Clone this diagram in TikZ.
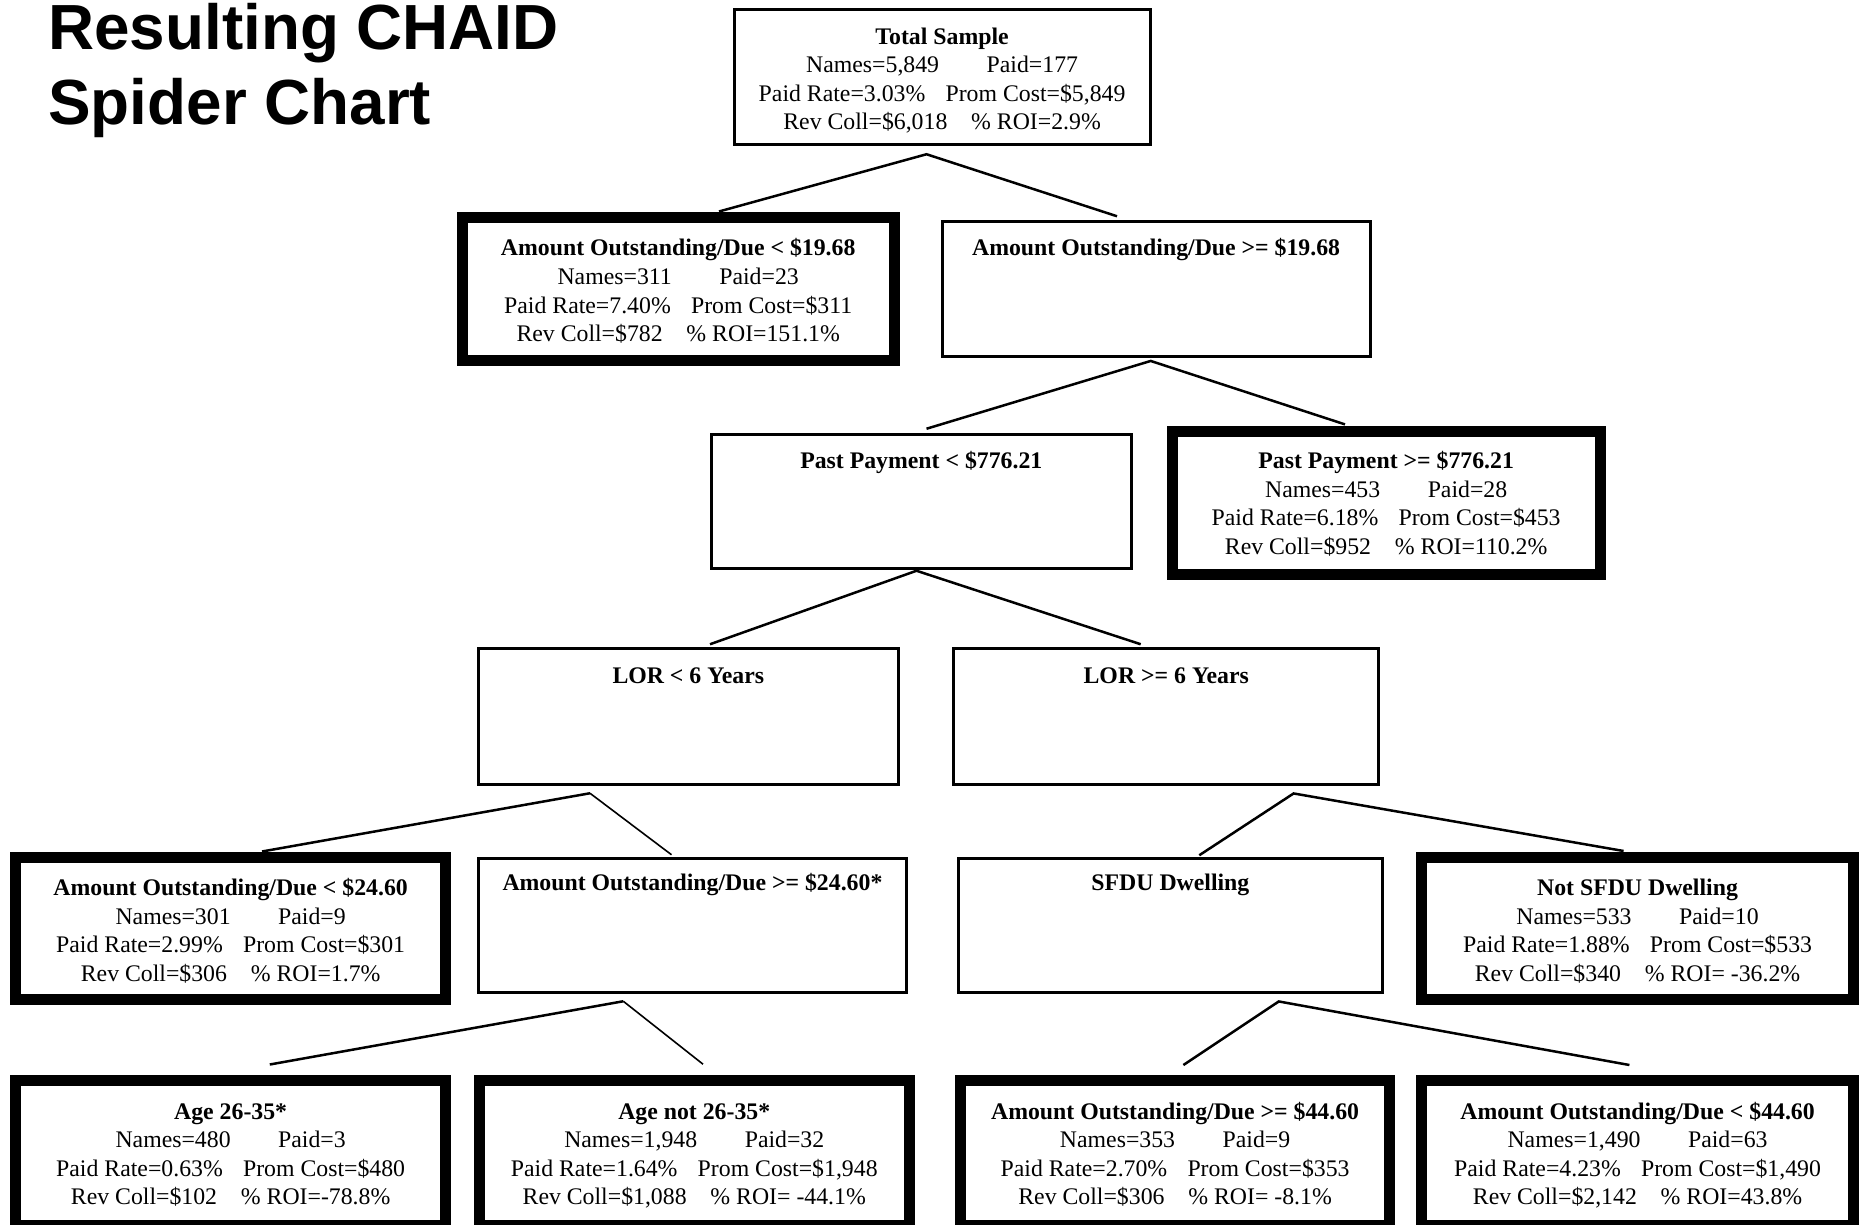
\documentclass[tikz,border=0pt]{standalone}
\usepackage{fontspec}
\setmainfont{Liberation Serif}
\newfontfamily\headfont{Liberation Sans}
% four lines of statistics under a split heading
\newcommand\nodestats[6]{Names=#1\hspace{2em}Paid=#2\\Paid Rate=#3\hspace{0.85em}Prom Cost=#4\\Rev Coll=#5\hspace{1em}\% ROI=#6}
\begin{document}
\begin{tikzpicture}[x=0.5pt, y=-0.5pt,
  plainbox/.style 2 args={draw, inner sep=0pt, outer sep=0pt, line width=1.5pt,
    minimum width={(#1-1)*0.5pt}, minimum height={(#2-1)*0.5pt}},
  heavybox/.style 2 args={draw, inner sep=0pt, outer sep=0pt, line width=5.5pt,
    minimum width={(#1-7)*0.5pt}, minimum height={(#2-7)*0.5pt}},
  info/.style={anchor=north, inner sep=0pt, align=center,
    font=\fontsize{11.89pt}{14.27pt}\selectfont},
  heading/.style={anchor=base west, inner sep=0pt,
    font=\headfont\bfseries\fontsize{31.9pt}{37.5pt}\selectfont},
  link/.style={line width=1.25pt},
  lightlink/.style={line width=0.8pt}
]
\useasboundingbox (0,0) rectangle (1864,1225);

% title
\node[heading] (title1) at (48,50) {Resulting CHAID};
\node[heading] (title2) at (48,125) {Spider Chart};

% boxes
\node[plainbox={417.2}{135.5}] (tot) at (942.1,77.25) {};
\node[heavybox={438.6}{149.8}] (a1) at (678.2,288.9) {};
\node[plainbox={429.2}{135.5}] (a2) at (1156.1,288.85) {};
\node[plainbox={420.8}{135.5}] (p1) at (921.3,501.65) {};
\node[heavybox={435.1}{149.7}] (p2) at (1386.15,502.85) {};
\node[plainbox={420.8}{136.7}] (l1) at (688.3,716.25) {};
\node[plainbox={425.6}{136.7}] (l2) at (1166.2,716.25) {};
\node[heavybox={437.5}{149.8}] (b1) at (230.65,928.4) {};
\node[plainbox={429.1}{134.3}] (b2) at (692.45,925.45) {};
\node[plainbox={424.4}{134.3}] (s1) at (1170.4,925.45) {};
\node[heavybox={438.7}{149.8}] (s2) at (1637.55,928.4) {};
\node[heavybox={437.5}{152}] (c1) at (230.65,1153) {};
\node[heavybox={437.5}{152}] (c2) at (694.25,1153) {};
\node[heavybox={436.2}{152}] (d1) at (1175.1,1153) {};
\node[heavybox={438.7}{152}] (d2) at (1637.55,1153) {};

% box texts
\node[info] (tot-t) at (942.1,24) {\strut\textbf{Total Sample}\\
  \nodestats{5,849}{177}{3.03\%}{\$5,849}{\$6,018}{2.9\%}};
\node[info] (a1-t) at (678.2,235.6) {\strut\textbf{Amount Outstanding/Due < \$19.68}\\
  \nodestats{311}{23}{7.40\%}{\$311}{\$782}{151.1\%}};
\node[info] (a2-t) at (1156.1,235.6) {\strut\textbf{Amount Outstanding/Due >= \$19.68}};
\node[info] (p1-t) at (921.3,448.4) {\strut\textbf{Past Payment < \$776.21}};
\node[info] (p2-t) at (1386.15,448.4) {\strut\textbf{Past Payment >= \$776.21}\\
  \nodestats{453}{28}{6.18\%}{\$453}{\$952}{110.2\%}};
\node[info] (l1-t) at (688.3,663.5) {\strut\textbf{LOR < 6 Years}};
\node[info] (l2-t) at (1166.2,663.5) {\strut\textbf{LOR >= 6 Years}};
\node[info] (b1-t) at (230.65,875.1) {\strut\textbf{Amount Outstanding/Due < \$24.60}\\
  \nodestats{301}{9}{2.99\%}{\$301}{\$306}{1.7\%}};
\node[info] (b2-t) at (692.45,870.4) {\strut\textbf{Amount Outstanding/Due >= \$24.60*}};
\node[info] (s1-t) at (1170.4,870.4) {\strut\textbf{SFDU Dwelling}};
\node[info] (s2-t) at (1637.55,875.1) {\strut\textbf{Not SFDU Dwelling}\\
  \nodestats{533}{10}{1.88\%}{\$533}{\$340}{ -36.2\%}};
\node[info] (c1-t) at (230.65,1098.8) {\strut\textbf{Age 26-35*}\\
  \nodestats{480}{3}{0.63\%}{\$480}{\$102}{-78.8\%}};
\node[info] (c2-t) at (694.25,1098.8) {\strut\textbf{Age not 26-35*}\\
  \nodestats{1,948}{32}{1.64\%}{\$1,948}{\$1,088}{ -44.1\%}};
\node[info] (d1-t) at (1175.1,1098.8) {\strut\textbf{Amount Outstanding/Due >= \$44.60}\\
  \nodestats{353}{9}{2.70\%}{\$353}{\$306}{ -8.1\%}};
\node[info] (d2-t) at (1637.55,1098.8) {\strut\textbf{Amount Outstanding/Due < \$44.60}\\
  \nodestats{1,490}{63}{4.23\%}{\$1,490}{\$2,142}{43.8\%}};

% splits
\draw[link] ([shift={(40.8,-6)}]a1.north) -- ([shift={(-15.6,9.75)}]tot.south)
  -- ([shift={(-39.1,-5.35)}]a2.north);
\draw[link] ([shift={(5.2,-5.65)}]p1.north) -- ([shift={(-5.4,4.85)}]a2.south)
  -- ([shift={(-41.15,-7.1)}]p2.north);
\draw[link] ([shift={(21.7,-4.15)}]l1.north) -- ([shift={(-4.8,1.85)}]p1.south)
  -- ([shift={(-25.5,-4.15)}]l2.north);
\draw[link] ([shift={(31.35,-5.5)}]b1.north) -- ([shift={(-98.3,9.15)}]l1.south);
\draw[lightlink] ([shift={(-98.3,9.15)}]l1.south) -- ([shift={(-20.95,-4.05)}]b2.north);
\draw[link] ([shift={(28.9,-3.55)}]s1.north) -- ([shift={(127.4,9.35)}]l2.south)
  -- ([shift={(-13.95,-6)}]s2.north);
\draw[link] ([shift={(39.15,-16)}]c1.north) -- ([shift={(-69.15,9.15)}]b2.south);
\draw[lightlink] ([shift={(-69.15,9.15)}]b2.south) -- ([shift={(8.75,-16.3)}]c2.north);
\draw[link] ([shift={(8.3,-15.5)}]d1.north) -- ([shift={(108.4,9.35)}]s1.south)
  -- ([shift={(-8.15,-15.5)}]d2.north);
\end{tikzpicture}
\end{document}
